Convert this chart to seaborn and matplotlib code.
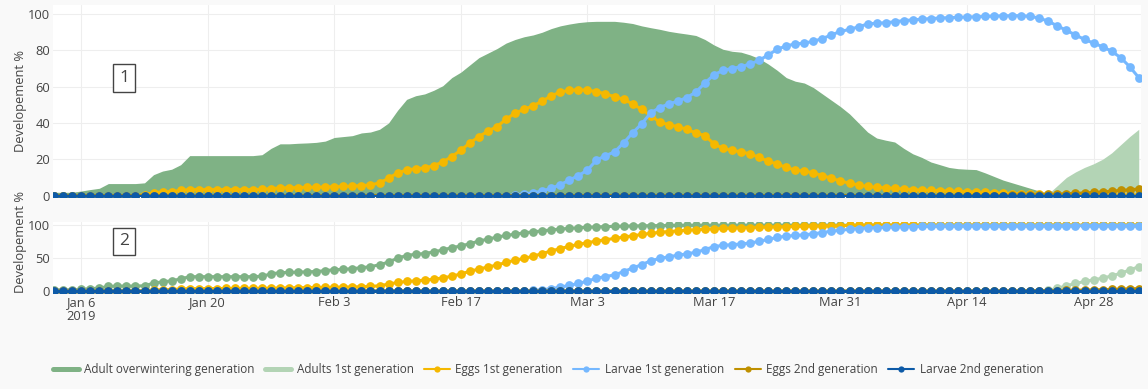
import numpy as np
import pandas as pd
import seaborn as sns
import matplotlib.pyplot as plt
from matplotlib.lines import Line2D

sns.set_theme(style="white")
plt.rcParams['font.family'] = ['Open Sans', 'DejaVu Sans']

# daily values, Jan 3 2019 -> May 3 2019
days = pd.date_range("2019-01-03", periods=121, freq="D")

# panel 1: share of population in each stage (%)
adult_ow = ([1.8, 1.8, 1.8, 2.5, 3.3, 4.0, 6.6, 6.6, 6.6, 6.6]
            + [7.0, 11.5, 13.5, 14.5, 17, 22, 22, 22, 22, 22]
            + [22, 22, 22, 22.5, 26, 28.5, 28.5, 28.8, 29, 29.3]
            + [30, 32, 32.5, 33, 34.5, 35, 36.5, 40, 47, 53]
            + [55, 56, 58, 60.5, 65, 68, 72, 76, 78.5, 81]
            + [84, 86, 87.5, 88.5, 90, 92, 93.5, 94.5, 95.3, 95.8]
            + [96, 96, 96, 95.5, 94.8, 93.5, 92.5, 91.6, 90.5, 89.7]
            + [89, 88.2, 86, 83, 80.6, 79.5, 79, 77.5, 75.5, 72.5]
            + [69, 65, 63, 62, 59.5, 56, 52.5, 49, 45, 40]
            + [35, 31.7, 30.5, 29.5, 26, 23, 21, 18.5, 17, 15.5]
            + [14.8, 14.5, 14.3, 12.5, 10.5, 8.5, 7, 5.5, 4, 2.5]
            + [1.5, 0.8, 0.3, 0, 0, 0, 0, 0, 0, 0, 0])
adults_1st = [0] * 110 + [1, 5.5, 10, 13, 15.5, 17.5, 20, 23.5, 28, 32.5, 36.5]
eggs_1st = ([0] * 10
            + [0.5, 1.5, 2, 2.2, 2.8, 3.3, 3.3, 3.3, 3.3, 3.3]
            + [3.3, 3.3, 3.3, 3.4, 3.8, 4.2, 4.3, 4.4, 4.5, 4.6]
            + [4.7, 4.9, 5, 5.2, 5.5, 5.8, 7, 9.5, 12.5, 14]
            + [14.8, 15.2, 16.5, 18.5, 21.5, 25, 29, 32.5, 35.5, 38]
            + [42, 45.5, 47.5, 49.5, 52, 55, 57, 58, 58.3, 58]
            + [57.3, 56, 54.5, 53, 50.5, 47.5, 44, 40.5, 39, 38]
            + [36.5, 34.5, 33, 28.5, 26, 25, 24, 23, 21, 19]
            + [17.3, 15.5, 14, 13.5, 12.5, 11, 9.5, 8, 6.8, 5.8]
            + [5, 4.5, 4.3, 4, 3.6, 3.3, 3, 2.8, 2.7, 2.5]
            + [2.3, 2.1, 1.9, 1.7, 1.5, 1.3, 1.1, 0.9, 0.7, 0.6]
            + [0.5, 0.4, 0.3, 0.3, 0.3, 0.3, 0.3, 0.3, 0.3, 0.3, 0.3])
larvae_1st = ([0] * 50
              + [0, 0.3, 1, 1.5, 2.5, 4, 6, 8.5, 11, 14]
              + [19.5, 22, 24, 29, 34.5, 39.5, 45.5, 48.5, 50.5, 52]
              + [54, 57, 62, 66.5, 69, 70, 71, 72.5, 74.5, 77.5]
              + [80.5, 82.5, 83.5, 84, 85, 86.5, 88.5, 90.5, 91.5, 93]
              + [94.5, 95, 95.2, 95.8, 96.4, 96.8, 97.2, 97.5, 97.8, 98]
              + [98.2, 98.4, 98.5, 98.7, 98.9, 99, 99.1, 99.1, 98.7, 97.8]
              + [96, 93.5, 91, 88.5, 86, 84, 82, 79.5, 76, 71, 65])
eggs_2nd = [0] * 106 + [0.2, 0.3, 0.4, 0.5, 0.6, 0.8, 1.0, 1.2, 1.4, 1.7, 2.0, 2.4, 2.8, 3.2, 3.6]
larvae_2nd = [0] * 121

# panel 2: cumulative development (%)
adult_ow_cum = ([1.8, 1.8, 1.8, 2.5, 3.5, 4.5, 7, 7.5, 7.5, 7.5]
                + [8, 12, 14, 15.5, 18.5, 21.8, 21.8, 21.8, 21.8, 21.8]
                + [21.8, 21.8, 21.8, 22.5, 26, 28, 28.3, 28.8, 29.2, 29.7]
                + [31, 32.5, 33, 34, 35.5, 37, 40, 44, 50, 54]
                + [56, 57, 59.5, 62.5, 66, 68.5, 72, 76, 79, 82]
                + [84.5, 86.5, 88.5, 90, 91.5, 93, 94.3, 95.3, 96.2, 97]
                + [97.5, 98, 98.4, 98.7, 99, 99.2, 99.4, 99.6, 99.7, 99.8]
                + [99.9] + [100] * 50)
adults_1st_cum = [0] * 110 + [1, 4, 8, 11.5, 14.5, 17, 19.5, 23, 27, 32, 37]
eggs_1st_cum = ([0] * 10
                + [0.5, 1.5, 2, 2.3, 3, 3.5, 3.6, 3.7, 3.8, 3.9]
                + [4, 4, 4, 4.1, 4.3, 4.6, 4.8, 5, 5.2, 5.4]
                + [5.6, 5.8, 6, 6.2, 6.5, 7, 8, 10.5, 13, 14.5]
                + [15.5, 16.5, 18, 20, 22.5, 26, 30, 33.5, 36.5, 39.5]
                + [43.5, 47, 49.5, 53, 57, 61, 64.5, 68, 71, 73.5]
                + [76, 78, 80, 82, 84, 86, 87.8, 89.2, 90.5, 91.5]
                + [92.5, 93.3, 94, 94.6, 95.2, 95.7, 96.2, 96.6, 97, 97.4]
                + [97.7, 98, 98.3, 98.6, 98.9, 99.1, 99.3, 99.5, 99.7, 99.8]
                + [100] * 31)
larvae_1st_cum = ([0] * 50
                  + [0, 0, 0.5, 1, 2, 3.5, 6, 8.5, 11.5, 15]
                  + [19.5, 22, 24.5, 29.5, 35, 40, 46, 49.5, 52, 54.5]
                  + [56.5, 59, 63, 67.5, 69.5, 70.5, 71.5, 73, 75.5, 78.5]
                  + [81.5, 83.5, 84.5, 85.5, 87, 89, 91, 92.5, 93.8, 95]
                  + [96, 96.5, 97, 97.4, 97.7, 98, 98.3, 98.6, 98.8, 99]
                  + [99.1] * 5 + [99.2] * 5 + [99.3] * 5 + [99.4] * 6)
eggs_2nd_cum = [0] * 106 + [0.2, 0.3, 0.4, 0.5, 0.6, 0.8, 1.0, 1.2, 1.4, 1.7, 2.0, 2.4, 2.8, 3.2, 3.6]
larvae_2nd_cum = [0] * 121

labels = ["Adult overwintering generation", "Adults 1st generation", "Eggs 1st generation",
          "Larvae 1st generation", "Eggs 2nd generation", "Larvae 2nd generation"]
colors = dict(zip(labels, ["#7fb285", "#b3d4b5", "#f5b800", "#75b8ff", "#bf9000", "#0d5aa7"]))

tick_dates = pd.to_datetime(["2019-01-06", "2019-01-20", "2019-02-03", "2019-02-17", "2019-03-03",
                             "2019-03-17", "2019-03-31", "2019-04-14", "2019-04-28"])
tick_labels = ["Jan 6\n2019", "Jan 20", "Feb 3", "Feb 17", "Mar 3", "Mar 17", "Mar 31", "Apr 14", "Apr 28"]

top = pd.DataFrame({"date": days, labels[0]: adult_ow, labels[1]: adults_1st, labels[2]: eggs_1st,
                    labels[3]: larvae_1st, labels[4]: eggs_2nd, labels[5]: larvae_2nd})
bottom = pd.DataFrame({"date": days, labels[0]: adult_ow_cum, labels[1]: adults_1st_cum, labels[2]: eggs_1st_cum,
                       labels[3]: larvae_1st_cum, labels[4]: eggs_2nd_cum, labels[5]: larvae_2nd_cum})

W, H = 1148, 389
BG = "#f9f9f9"
TXT = "#444444"
fig = plt.figure(figsize=(W / 100, H / 100), dpi=100, facecolor=BG)
ax1 = fig.add_axes([53 / W, 1 - 197 / H, 1088 / W, 192 / H])
ax2 = fig.add_axes([53 / W, 1 - 293 / H, 1088 / W, 71 / H])


def draw_lines(ax, frame, names):
    long = frame.melt(id_vars="date", value_vars=names, var_name="series", value_name="value")
    sns.lineplot(data=long, x="date", y="value", hue="series", hue_order=names,
                 palette=[colors[n] for n in names], marker="o", markersize=6.3,
                 markeredgewidth=0, linewidth=2.2, ax=ax, legend=False, zorder=3)


# panel 1: areas for adults, lines for the rest
ax1.fill_between(top["date"], top[labels[0]], color=colors[labels[0]], lw=0, zorder=1)
ax1.fill_between(top["date"], top[labels[1]], color=colors[labels[1]], lw=0, zorder=1.1)
draw_lines(ax1, top, labels[2:])

# panel 2: everything cumulative as lines
draw_lines(ax2, bottom, labels)

xmin = days[0] - pd.Timedelta(hours=3)
xmax = days[-1] + pd.Timedelta(hours=6)
for ax, yt, ylim in [(ax1, [0, 20, 40, 60, 80, 100], (-0.8, 105)), (ax2, [0, 50, 100], (-3, 105))]:
    ax.set_facecolor("white")
    ax.set_xlim(xmin, xmax)
    ax.set_ylim(*ylim)
    ax.set_yticks(yt)
    ax.set_xticks(tick_dates)
    ax.grid(True, color="#eeeeee", lw=0.8)
    ax.set_axisbelow(True)
    ax.set_xlabel("")
    ax.set_ylabel("")
    for s in ax.spines.values():
        s.set_visible(False)
    ax.tick_params(axis="both", length=0, labelsize=9.3, labelcolor=TXT, pad=2)

ax1.set_xticklabels([])
ax2.set_xticklabels(tick_labels, linespacing=1.15)

fig.text(21 / W, 1 - 101 / H, "Developement %", rotation=90, ha="center", va="center", fontsize=9.3, color=TXT)
fig.text(21 / W, 1 - 242 / H, "Developement %", rotation=90, ha="center", va="center", fontsize=9.3, color=TXT)

box = dict(boxstyle="square,pad=0.32", fc="white", ec=TXT, lw=1)
ax1.text(0.0653, 0.62, "1", transform=ax1.transAxes, ha="center", va="center", fontsize=12.5, color=TXT, bbox=box, zorder=5)
ax2.text(0.0653, 0.73, "2", transform=ax2.transAxes, ha="center", va="center", fontsize=12.5, color=TXT, bbox=box, zorder=5)

handles = [Line2D([], [], color=colors[labels[0]], lw=3.6),
           Line2D([], [], color=colors[labels[1]], lw=3.6)]
handles += [Line2D([], [], color=colors[n], lw=1.5, marker="o", markersize=4.5, markeredgewidth=0) for n in labels[2:]]
fig.legend(handles, labels, loc="center", bbox_to_anchor=(548 / W, 1 - 370 / H), ncol=6, frameon=False,
           handlelength=2.2, handletextpad=0.45, columnspacing=0.9, fontsize=8.5, labelcolor=TXT)

fig.savefig("out.png", dpi=100, facecolor=fig.get_facecolor())
